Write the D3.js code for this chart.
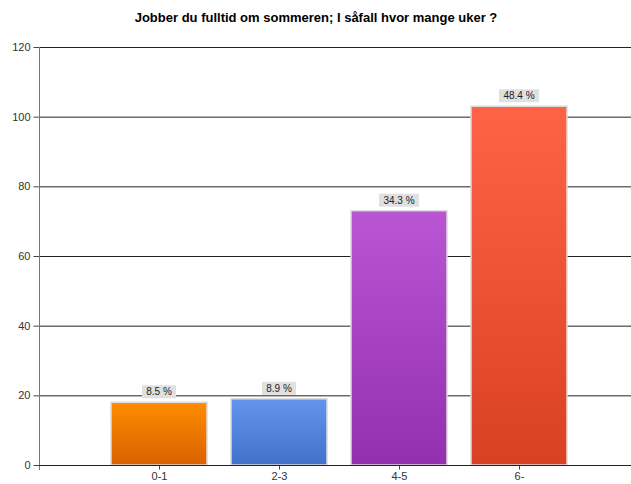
<!DOCTYPE html>
<html>
<head>
<meta charset="utf-8">
<script src="https://cdn.jsdelivr.net/npm/d3@7"></script>
<style>
  body { margin: 0; background: #fff; }
  text { font-family: "Liberation Sans", Arial, sans-serif; }
  .title { font-size: 13px; font-weight: bold; fill: #000; }
  .tick text { font-size: 11px; fill: #333; }
  .lbl { font-size: 10px; fill: #222; }
</style>
</head>
<body>
<svg width="631" height="484"></svg>
<script>
var categories = ["0-1", "2-3", "4-5", "6-"];
var counts = [18, 19, 73, 103];
var percents = ["8.5 %", "8.9 %", "34.3 %", "48.4 %"];
var yTicks = [0, 20, 40, 60, 80, 100, 120];
var topColors = ["#ff8c00", "#6495ed", "#ba55d3", "#ff6347"];
var bottomColors = ["#d96200", "#4271c9", "#9330b0", "#d94124"];

var svg = d3.select("svg");
var plotLeft = 39, plotTop = 47, plotBottom = 465;

var x = d3.scaleLinear().domain([0, 5]).range([plotLeft, plotLeft + 600]);
var y = d3.scaleLinear().domain([0, 120]).range([plotBottom, plotTop]);
var barW = 96;

svg.append("text")
  .attr("class", "title")
  .attr("x", 316).attr("y", 22)
  .attr("text-anchor", "middle")
  .text("Jobber du fulltid om sommeren; I såfall hvor mange uker ?");

// gradients
var defs = svg.append("defs");
categories.forEach(function(c, i) {
  var g = defs.append("linearGradient")
    .attr("id", "grad" + i)
    .attr("x1", 0).attr("y1", 0).attr("x2", 0).attr("y2", 1);
  g.append("stop").attr("offset", "0%").attr("stop-color", topColors[i]);
  g.append("stop").attr("offset", "100%").attr("stop-color", bottomColors[i]);
});

// gridlines
svg.append("g").selectAll("line")
  .data(yTicks.slice(1))
  .enter().append("line")
  .attr("x1", plotLeft).attr("x2", 631)
  .attr("y1", function(d) { return y(d) + 0.5; })
  .attr("y2", function(d) { return y(d) + 0.5; })
  .attr("stroke", "#222").attr("stroke-width", 1);

// y axis
var yAxis = svg.append("g")
  .attr("transform", "translate(" + (plotLeft + 0.5) + ",0)")
  .call(d3.axisLeft(y).tickValues(yTicks).tickSize(6).tickPadding(3).tickSizeOuter(0));
yAxis.select(".domain").remove();
yAxis.selectAll(".tick line").attr("stroke", "#444");
svg.append("line")
  .attr("x1", plotLeft + 0.5).attr("x2", plotLeft + 0.5)
  .attr("y1", plotTop).attr("y2", plotBottom + 5)
  .attr("stroke", "#777");

// bars
var bars = svg.append("g").selectAll("g")
  .data(counts)
  .enter().append("g");

bars.append("rect")
  .attr("x", function(d, i) { return x(i + 1) - barW / 2; })
  .attr("y", function(d) { return y(d); })
  .attr("width", barW)
  .attr("height", function(d) { return plotBottom - y(d); })
  .attr("fill", function(d, i) { return "url(#grad" + i + ")"; })
  .attr("stroke", "#dcdcdc").attr("stroke-width", 1.5);

bars.append("rect")
  .attr("x", function(d, i) { return x(i + 1) - (percents[i].length > 5 ? 20 : 17); })
  .attr("y", function(d) { return y(d) - 17; })
  .attr("width", function(d, i) { return percents[i].length > 5 ? 40 : 34; })
  .attr("height", 13)
  .attr("fill", "#e0e0e0");

bars.append("text")
  .attr("class", "lbl")
  .attr("x", function(d, i) { return x(i + 1); })
  .attr("y", function(d) { return y(d) - 7; })
  .attr("text-anchor", "middle")
  .text(function(d, i) { return percents[i]; });

// x axis
var xAxis = svg.append("g")
  .attr("transform", "translate(0," + (plotBottom + 0.5) + ")")
  .call(d3.axisBottom(x).tickValues([1, 2, 3, 4])
    .tickFormat(function(d) { return categories[d - 1]; })
    .tickSize(4).tickPadding(3).tickSizeOuter(0));
xAxis.select(".domain").remove();
xAxis.selectAll(".tick line").attr("stroke", "#444");
svg.append("line")
  .attr("x1", plotLeft).attr("x2", 631)
  .attr("y1", plotBottom + 0.5).attr("y2", plotBottom + 0.5)
  .attr("stroke", "#222");
</script>
</body>
</html>
